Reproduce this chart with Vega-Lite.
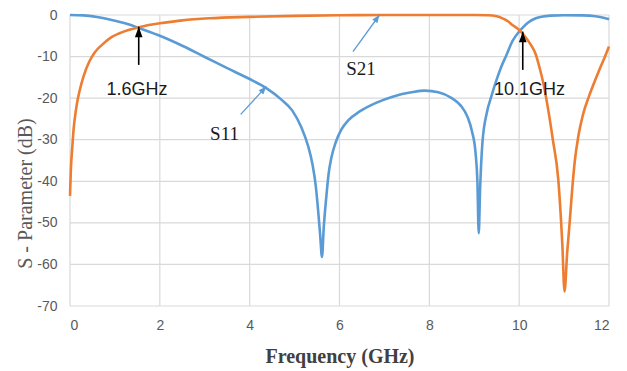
{
  "$schema": "https://vega.github.io/schema/vega-lite/v6.json",
  "width": 539,
  "height": 291,
  "autosize": {"type": "none"},
  "padding": {"left": 70, "top": 15, "right": 18, "bottom": 65},
  "background": "white",
  "config": {
    "view": {"stroke": null},
    "axis": {
      "labelColor": "#595959",
      "labelFont": "Liberation Sans",
      "labelFontSize": 14
    }
  },
  "datasets": {
    "curves": [
      {"series": "S11", "f": 0, "db": 0},
      {"series": "S11", "f": 0.3, "db": -0.1},
      {"series": "S11", "f": 0.6, "db": -0.5},
      {"series": "S11", "f": 1.0, "db": -1.4},
      {"series": "S11", "f": 1.3, "db": -2.2},
      {"series": "S11", "f": 1.55, "db": -3.2},
      {"series": "S11", "f": 2.0, "db": -5.0},
      {"series": "S11", "f": 2.5, "db": -7.4},
      {"series": "S11", "f": 3.0, "db": -10.1},
      {"series": "S11", "f": 3.5, "db": -12.8},
      {"series": "S11", "f": 4.0, "db": -15.4},
      {"series": "S11", "f": 4.37, "db": -17.6},
      {"series": "S11", "f": 4.7, "db": -20.3},
      {"series": "S11", "f": 4.95, "db": -23.0},
      {"series": "S11", "f": 5.15, "db": -27.0},
      {"series": "S11", "f": 5.3, "db": -31.5},
      {"series": "S11", "f": 5.4, "db": -36},
      {"series": "S11", "f": 5.47, "db": -41},
      {"series": "S11", "f": 5.52, "db": -46.5},
      {"series": "S11", "f": 5.57, "db": -53},
      {"series": "S11", "f": 5.61, "db": -58.2},
      {"series": "S11", "f": 5.65, "db": -51},
      {"series": "S11", "f": 5.7, "db": -44.5},
      {"series": "S11", "f": 5.76, "db": -38},
      {"series": "S11", "f": 5.82, "db": -34.3},
      {"series": "S11", "f": 5.92, "db": -30.5},
      {"series": "S11", "f": 6.04, "db": -27.6},
      {"series": "S11", "f": 6.2, "db": -25.3},
      {"series": "S11", "f": 6.45, "db": -23.2},
      {"series": "S11", "f": 6.8, "db": -21.2},
      {"series": "S11", "f": 7.2, "db": -19.6},
      {"series": "S11", "f": 7.6, "db": -18.6},
      {"series": "S11", "f": 7.9, "db": -18.2},
      {"series": "S11", "f": 8.2, "db": -18.6},
      {"series": "S11", "f": 8.5, "db": -20.0},
      {"series": "S11", "f": 8.7, "db": -21.8},
      {"series": "S11", "f": 8.85, "db": -24.5},
      {"series": "S11", "f": 8.95, "db": -28},
      {"series": "S11", "f": 9.03, "db": -33.3},
      {"series": "S11", "f": 9.07, "db": -40},
      {"series": "S11", "f": 9.1, "db": -52.5},
      {"series": "S11", "f": 9.13, "db": -42},
      {"series": "S11", "f": 9.18, "db": -31},
      {"series": "S11", "f": 9.28, "db": -23.5},
      {"series": "S11", "f": 9.38, "db": -19.6},
      {"series": "S11", "f": 9.5, "db": -15.5},
      {"series": "S11", "f": 9.6, "db": -12.5},
      {"series": "S11", "f": 9.71, "db": -9.8},
      {"series": "S11", "f": 9.85, "db": -6.3},
      {"series": "S11", "f": 10.0, "db": -4.0},
      {"series": "S11", "f": 10.1, "db": -2.8},
      {"series": "S11", "f": 10.2, "db": -1.8},
      {"series": "S11", "f": 10.37, "db": -0.8},
      {"series": "S11", "f": 10.5, "db": -0.4},
      {"series": "S11", "f": 10.7, "db": -0.15},
      {"series": "S11", "f": 11.0, "db": -0.05},
      {"series": "S11", "f": 11.4, "db": -0.1},
      {"series": "S11", "f": 11.7, "db": -0.3},
      {"series": "S11", "f": 11.9, "db": -0.7},
      {"series": "S11", "f": 12.0, "db": -1.0},
      {"series": "S21", "f": 0, "db": -43.5},
      {"series": "S21", "f": 0.02, "db": -37},
      {"series": "S21", "f": 0.05, "db": -32},
      {"series": "S21", "f": 0.08, "db": -27.5},
      {"series": "S21", "f": 0.12, "db": -23.8},
      {"series": "S21", "f": 0.16, "db": -21},
      {"series": "S21", "f": 0.21, "db": -18.4},
      {"series": "S21", "f": 0.3, "db": -14.8},
      {"series": "S21", "f": 0.43, "db": -11.2},
      {"series": "S21", "f": 0.55, "db": -9.0},
      {"series": "S21", "f": 0.73, "db": -7.0},
      {"series": "S21", "f": 0.9, "db": -5.5},
      {"series": "S21", "f": 1.1, "db": -4.4},
      {"series": "S21", "f": 1.3, "db": -3.6},
      {"series": "S21", "f": 1.52, "db": -3.0},
      {"series": "S21", "f": 1.75, "db": -2.4},
      {"series": "S21", "f": 2.0, "db": -2.0},
      {"series": "S21", "f": 2.5, "db": -1.3},
      {"series": "S21", "f": 3.1, "db": -0.8},
      {"series": "S21", "f": 4.0, "db": -0.45},
      {"series": "S21", "f": 5.0, "db": -0.2},
      {"series": "S21", "f": 6.0, "db": -0.05},
      {"series": "S21", "f": 7.0, "db": 0},
      {"series": "S21", "f": 8.0, "db": 0},
      {"series": "S21", "f": 9.0, "db": 0},
      {"series": "S21", "f": 9.3, "db": -0.05},
      {"series": "S21", "f": 9.5, "db": -0.3},
      {"series": "S21", "f": 9.63, "db": -0.8},
      {"series": "S21", "f": 9.75, "db": -1.5},
      {"series": "S21", "f": 9.85, "db": -2.4},
      {"series": "S21", "f": 10.0, "db": -3.6},
      {"series": "S21", "f": 10.1, "db": -4.8},
      {"series": "S21", "f": 10.25, "db": -7.0},
      {"series": "S21", "f": 10.37, "db": -9.5},
      {"series": "S21", "f": 10.45, "db": -12.5},
      {"series": "S21", "f": 10.55, "db": -17},
      {"series": "S21", "f": 10.65, "db": -23},
      {"series": "S21", "f": 10.75, "db": -30},
      {"series": "S21", "f": 10.87, "db": -39.5},
      {"series": "S21", "f": 10.96, "db": -55},
      {"series": "S21", "f": 11.01, "db": -66.5},
      {"series": "S21", "f": 11.07, "db": -57},
      {"series": "S21", "f": 11.12, "db": -50.5},
      {"series": "S21", "f": 11.18, "db": -42},
      {"series": "S21", "f": 11.24, "db": -35},
      {"series": "S21", "f": 11.32, "db": -29},
      {"series": "S21", "f": 11.42, "db": -24},
      {"series": "S21", "f": 11.56, "db": -19.4},
      {"series": "S21", "f": 11.68, "db": -16.0},
      {"series": "S21", "f": 11.8, "db": -12.8},
      {"series": "S21", "f": 11.9, "db": -10.3},
      {"series": "S21", "f": 12.0, "db": -7.6}
    ],
    "blackArrows": [
      {"f": 1.53, "from": -12.0, "to": -2.8},
      {"f": 10.08, "from": -13.2, "to": -4.0}
    ],
    "xgrid": [{"f": 0}, {"f": 2}, {"f": 4}, {"f": 6}, {"f": 8}, {"f": 10}, {"f": 12}],
    "ygrid": [{"db": 0}, {"db": -10}, {"db": -20}, {"db": -30}, {"db": -40}, {"db": -50}, {"db": -60}, {"db": -70}]
  },
  "layer": [
    {
      "data": {"name": "xgrid"},
      "mark": {"type": "rule", "color": "#d9d9d9", "strokeWidth": 1.2},
      "encoding": {
        "x": {
          "field": "f", "type": "quantitative",
          "scale": {"domain": [0, 12], "nice": false, "zero": false},
          "axis": {
            "grid": false,
            "domain": false,
            "ticks": false,
            "values": [0, 2, 4, 6, 8, 10, 12],
            "title": "Frequency  (GHz)",
            "titleFont": "Liberation Serif",
            "titleFontSize": 20,
            "titleFontWeight": "bold",
            "titleColor": "#404040",
            "titleBaseline": "middle",
            "titleY": 50,
            "labelPadding": 12
          }
        }
      }
    },
    {
      "data": {"name": "ygrid"},
      "mark": {"type": "rule", "color": "#d9d9d9", "strokeWidth": 1.2},
      "encoding": {
        "y": {
          "field": "db", "type": "quantitative",
          "scale": {"domain": [-70, 0], "nice": false},
          "axis": {
            "grid": false,
            "domain": false,
            "ticks": false,
            "values": [0, -10, -20, -30, -40, -50, -60, -70],
            "labelExpr": "datum.value == 0 ? '0' : '-' + abs(datum.value)",
            "title": "S - Parameter  (dB)",
            "titleFont": "Liberation Serif",
            "titleFontSize": 20,
            "titleFontWeight": "normal",
            "titleColor": "#595959",
            "titleAngle": -90,
            "titleBaseline": "middle",
            "titleAlign": "center",
            "titleX": -45,
            "titleY": 178,
            "labelPadding": 13
          }
        }
      }
    },
    {
      "data": {"name": "curves"},
      "mark": {"type": "line", "strokeWidth": 2.6, "interpolate": "monotone"},
      "encoding": {
        "x": {"field": "f", "type": "quantitative", "scale": {"domain": [0, 12], "nice": false, "zero": false}},
        "y": {"field": "db", "type": "quantitative", "scale": {"domain": [-70, 0], "nice": false}},
        "color": {
          "field": "series", "type": "nominal",
          "scale": {"domain": ["S11", "S21"], "range": ["#5B9BD5", "#ED7D31"]},
          "legend": null
        },
        "detail": {"field": "series"}
      }
    },
    {
      "data": {"name": "blackArrows"},
      "mark": {"type": "rule", "color": "black", "strokeWidth": 1.6},
      "encoding": {
        "x": {"field": "f", "type": "quantitative"},
        "y": {"field": "from", "type": "quantitative"},
        "y2": {"field": "to"}
      }
    },
    {
      "data": {"name": "blackArrows"},
      "mark": {"type": "point", "shape": "M0,0L-0.36,1L0.36,1Z", "filled": true, "color": "black", "opacity": 1, "size": 450},
      "encoding": {
        "x": {"field": "f", "type": "quantitative"},
        "y": {"field": "to", "type": "quantitative"}
      }
    },
    {
      "data": {"values": [
        {"f": 3.8, "db": -23.9, "f2": 4.37, "db2": -17.2},
        {"f": 6.3, "db": -8.8, "f2": 6.89, "db2": 0}
      ]},
      "mark": {"type": "rule", "color": "#5B9BD5", "strokeWidth": 1.3},
      "encoding": {
        "x": {"field": "f", "type": "quantitative"},
        "y": {"field": "db", "type": "quantitative"},
        "x2": {"field": "f2"},
        "y2": {"field": "db2"}
      }
    },
    {
      "data": {"values": [{"f": 4.37, "db": -17.2}]},
      "mark": {"type": "point", "shape": "M0,0L-0.4,1L0.4,1Z", "filled": true, "color": "#5B9BD5", "opacity": 1, "size": 250, "angle": 42},
      "encoding": {
        "x": {"field": "f", "type": "quantitative"},
        "y": {"field": "db", "type": "quantitative"}
      }
    },
    {
      "data": {"values": [{"f": 6.89, "db": 0}]},
      "mark": {"type": "point", "shape": "M0,0L-0.4,1L0.4,1Z", "filled": true, "color": "#5B9BD5", "opacity": 1, "size": 250, "angle": 36},
      "encoding": {
        "x": {"field": "f", "type": "quantitative"},
        "y": {"field": "db", "type": "quantitative"}
      }
    },
    {
      "data": {"values": [
        {"f": 1.49, "db": -18.0, "label": "1.6GHz"},
        {"f": 10.23, "db": -18.1, "label": "10.1GHz"}
      ]},
      "mark": {"type": "text", "font": "Liberation Sans", "fontSize": 18, "color": "#1a1a1a", "align": "center", "baseline": "middle"},
      "encoding": {
        "x": {"field": "f", "type": "quantitative"},
        "y": {"field": "db", "type": "quantitative"},
        "text": {"field": "label"}
      }
    },
    {
      "data": {"values": [
        {"f": 3.44, "db": -28.6, "label": "S11"},
        {"f": 6.48, "db": -13.0, "label": "S21"}
      ]},
      "mark": {"type": "text", "font": "Liberation Serif", "fontSize": 19, "color": "#1a1a1a", "align": "center", "baseline": "middle"},
      "encoding": {
        "x": {"field": "f", "type": "quantitative"},
        "y": {"field": "db", "type": "quantitative"},
        "text": {"field": "label"}
      }
    }
  ]
}
